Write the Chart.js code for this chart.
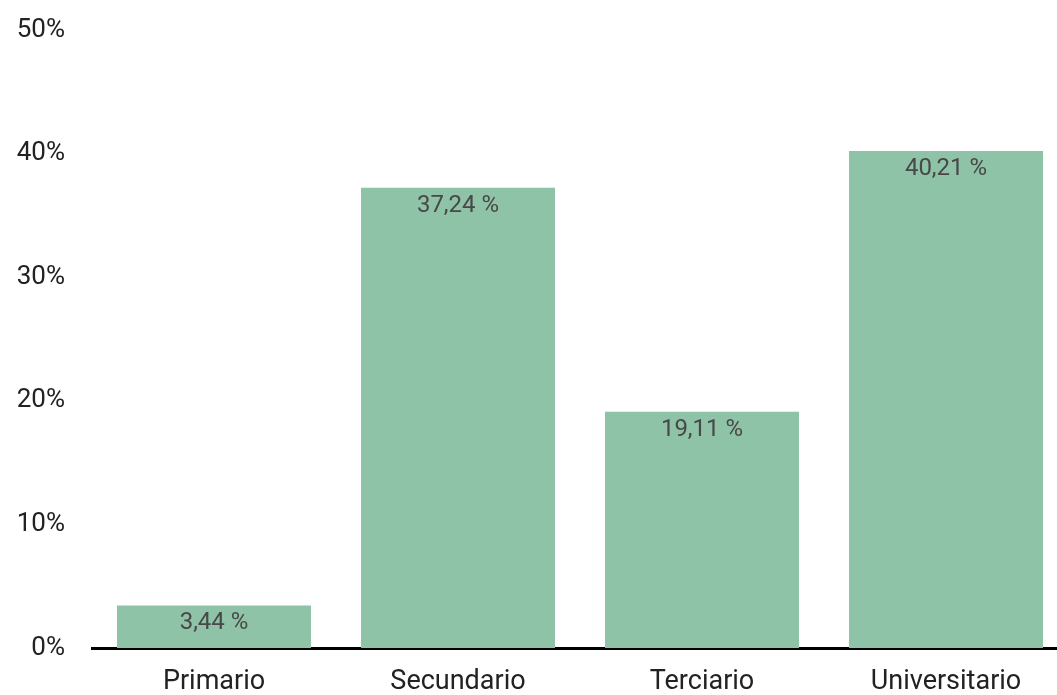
<!DOCTYPE html>
<html>
<head>
<meta charset="utf-8">
<script src="https://cdn.jsdelivr.net/npm/chart.js@4"></script>
<style>
  html, body { margin: 0; padding: 0; background: #fff; overflow: hidden; }
  #wrap { width: 1068px; height: 695px; }
</style>
</head>
<body>
<div id="wrap"><canvas id="myChart"></canvas></div>
<script>
// values
const categories = ["Primario", "Secundario", "Terciario", "Universitario"];
const shares = [3.44, 37.24, 19.11, 40.21];
const yTicks = [0, 10, 20, 30, 40, 50];

// writes "37,24 %" inside the top of each bar
const barLabels = {
  id: "barLabels",
  afterDatasetsDraw(chart) {
    const ctx = chart.ctx;
    const meta = chart.getDatasetMeta(0);
    ctx.save();
    ctx.font = "24px Roboto";
    ctx.fillStyle = "#484848";
    ctx.textAlign = "center";
    ctx.textBaseline = "middle";
    meta.data.forEach((bar, i) => {
      const txt = shares[i].toFixed(2).replace(".", ",") + " %";
      ctx.fillText(txt, bar.x, bar.y + 18);
    });
    ctx.restore();
  }
};

function mainEvent() {
  const target = document.querySelector("#myChart");
  new Chart(target, {
    type: "bar",
    data: {
      labels: categories,
      datasets: [{
        data: shares,
        backgroundColor: "#8ec3a7",
        borderWidth: 0,
        barPercentage: 0.795,
        categoryPercentage: 1
      }]
    },
    options: {
      responsive: true,
      maintainAspectRatio: false,
      animation: false,
      layout: { padding: { top: 30, right: 0, bottom: 0, left: 0 } },
      plugins: { legend: { display: false }, tooltip: { enabled: false } },
      scales: {
        x: {
          grid: { display: false, drawTicks: false },
          border: { display: true, color: "#000000", width: 3 },
          ticks: { color: "#222222", font: { family: "Roboto", size: 27 }, padding: 18 },
          afterFit: (scale) => { scale.height = 47; }
        },
        y: {
          min: 0,
          max: 50,
          afterBuildTicks: (scale) => { scale.ticks = yTicks.map((v) => ({ value: v })); },
          grid: { display: false, drawTicks: false },
          border: { display: false },
          ticks: {
            color: "#222222",
            font: { family: "Roboto", size: 26 },
            padding: 27,
            callback: (v) => v + "%"
          },
          afterFit: (scale) => {
            scale.width = 92;
            scale.paddingTop = 0;
            scale.paddingBottom = 0;
          }
        }
      }
    },
    plugins: [barLabels]
  });
}

document.addEventListener("DOMContentLoaded", () => mainEvent());
</script>
</body>
</html>
